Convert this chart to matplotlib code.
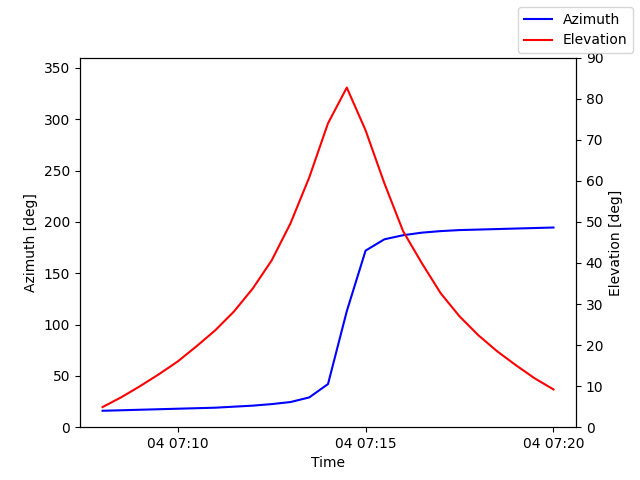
import matplotlib
matplotlib.use("Agg")
import matplotlib.pyplot as plt
import matplotlib.dates as mdates
import pandas as pd

times = pd.date_range("2024-01-04 07:08:00", "2024-01-04 07:20:00", freq="30s")
azimuth = [16, 16.5, 17, 17.5, 18, 18.5, 19, 20, 21, 22.5, 24.5, 29, 42, 113, 172,
           183, 187, 189.5, 191, 192, 192.5, 193, 193.5, 194, 194.5]
elevation = [4.9, 7.3, 10, 12.9, 16, 19.7, 23.6, 28.2, 33.8, 40.6, 49.6, 60.8, 74, 82.7,
             72.3, 59.4, 47.7, 39.9, 32.6, 27, 22.4, 18.5, 15.1, 11.9, 9.2]

fig, ax = plt.subplots(figsize=(6.4, 4.8), dpi=100)
ax.plot(times, azimuth, color="blue", label="Azimuth")
ax.set_ylim(0, 360)
ax.set_ylabel("Azimuth [deg]")
ax.set_xlabel("Time")
ax2 = ax.twinx()
ax2.plot(times, elevation, color="red", label="Elevation")
ax2.set_ylim(0, 90)
ax2.set_ylabel("Elevation [deg]")
ax.xaxis.set_major_locator(mdates.MinuteLocator(byminute=[10, 15, 20]))
ax.xaxis.set_major_formatter(mdates.DateFormatter("%d %H:%M"))
fig.legend(loc="upper right")
fig.subplots_adjust(left=0.125, right=0.9, top=0.88, bottom=0.11)
fig.savefig("out.png")
